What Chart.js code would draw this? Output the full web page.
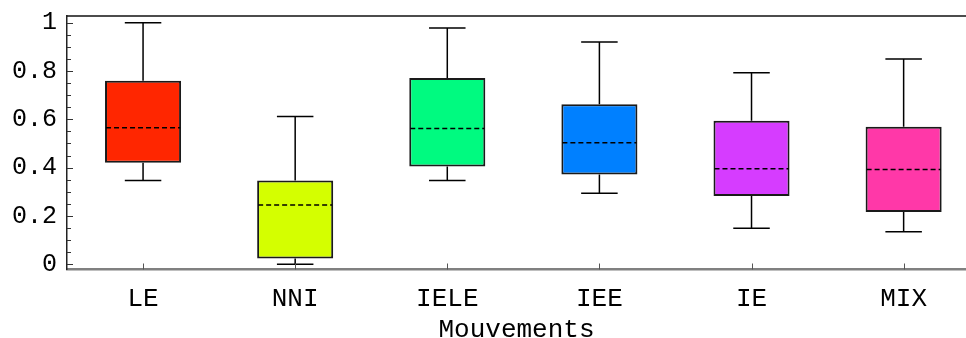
<!DOCTYPE html>
<html>
<head>
<meta charset="utf-8">
<script src="https://cdn.jsdelivr.net/npm/chart.js@4.4.1/dist/chart.umd.min.js"></script>
<style>
  html, body { margin: 0; padding: 0; background: #fff; }
  #wrap { width: 966px; height: 338px; position: relative; }
</style>
</head>
<body>
<div id="wrap"><canvas id="boxChart"></canvas></div>
<script>
/* ======= Data ======= */
var categories  = ['LE', 'NNI', 'IELE', 'IEE', 'IE', 'MIX'];
var whiskerLow  = [0.347, 0.000, 0.347, 0.294, 0.149, 0.134];
var quartile1   = [0.420, 0.024, 0.405, 0.372, 0.282, 0.216];
var medians     = [0.565, 0.245, 0.562, 0.503, 0.395, 0.392];
var quartile3   = [0.760, 0.347, 0.771, 0.662, 0.594, 0.569];
var whiskerHigh = [1.000, 0.612, 0.978, 0.920, 0.793, 0.850];
var yTickValues = [0, 0.2, 0.4, 0.6, 0.8, 1];
var yTickLabels = ['0', '0.2', '0.4', '0.6', '0.8', '1'];
var yMinorStep  = 0.05;

var boxColors = ['#ff2600', '#d4ff00', '#00fa80', '#0080ff', '#d63cff', '#ff38a8'];
var monoFont  = "'Liberation Mono', 'DejaVu Sans Mono', monospace";

/* ======= Whiskers, medians, inward ticks, top frame ======= */
var boxExtras = {
    id: 'boxExtras',
    afterDatasetsDraw: function (chart) {
        var ctx = chart.ctx;
        var xs = chart.scales.x;
        var ys = chart.scales.y;
        var area = chart.chartArea;
        var bars = chart.getDatasetMeta(0).data;
        var capHalf = 0.12;

        ctx.save();
        ctx.strokeStyle = '#000';
        ctx.lineWidth = 1.5;
        categories.forEach(function (c, i) {
            var x = xs.getPixelForValue(i + 1);
            var capL = xs.getPixelForValue(i + 1 - capHalf);
            var capR = xs.getPixelForValue(i + 1 + capHalf);
            [[quartile3[i], whiskerHigh[i]], [quartile1[i], whiskerLow[i]]].forEach(function (p) {
                var y0 = ys.getPixelForValue(p[0]);
                var y1 = ys.getPixelForValue(p[1]);
                ctx.beginPath();
                ctx.moveTo(x, y0);
                ctx.lineTo(x, y1);
                ctx.moveTo(capL, y1);
                ctx.lineTo(capR, y1);
                ctx.stroke();
            });
        });

        // dashed medians across each box
        ctx.setLineDash([5, 3]);
        ctx.lineWidth = 1.5;
        bars.forEach(function (bar, i) {
            var ym = ys.getPixelForValue(medians[i]);
            ctx.beginPath();
            ctx.moveTo(bar.x - bar.width / 2 + 1, ym);
            ctx.lineTo(bar.x + bar.width / 2 - 1, ym);
            ctx.stroke();
        });
        ctx.setLineDash([]);

        // y ticks pointing inward, major every 0.2, minor every 0.05
        ctx.strokeStyle = '#333';
        ctx.lineWidth = 1;
        for (var k = 0; k * yMinorStep <= ys.max + 1e-9; k++) {
            var yy = Math.round(ys.getPixelForValue(k * yMinorStep)) + 0.5;
            var len = (k % 4 === 0) ? 6 : 4;
            ctx.beginPath();
            ctx.moveTo(area.left, yy);
            ctx.lineTo(area.left + len, yy);
            ctx.stroke();
        }

        // x ticks pointing up
        ctx.strokeStyle = '#555';
        categories.forEach(function (c, i) {
            var xx = Math.round(xs.getPixelForValue(i + 1)) + 0.5;
            ctx.beginPath();
            ctx.moveTo(xx, area.bottom);
            ctx.lineTo(xx, area.bottom - 6);
            ctx.stroke();
        });

        // frame on top
        ctx.strokeStyle = '#111';
        ctx.lineWidth = 1.5;
        ctx.beginPath();
        ctx.moveTo(area.left, area.top);
        ctx.lineTo(area.right, area.top);
        ctx.stroke();
        ctx.restore();
    }
};

var ctx = document.getElementById('boxChart');

var chart = new Chart(ctx, {
    type: 'bar',
    data: {
        datasets: [{
            data: categories.map(function (c, i) {
                return { x: i + 1, y: [quartile1[i], quartile3[i]] };
            }),
            backgroundColor: boxColors,
            borderColor: '#1a1a1a',
            borderWidth: 2,
            borderSkipped: false,
            barPercentage: 0.5,
            categoryPercentage: 1
        }]
    },
    options: {
        responsive: true,
        maintainAspectRatio: false,
        animation: false,
        layout: { padding: { top: 16, right: 0, bottom: 0, left: 0 } },
        plugins: {
            legend: { display: false },
            tooltip: { enabled: false }
        },
        scales: {
            x: {
                type: 'linear',
                min: 0.5,
                max: 6.41,
                offset: false,
                grid: { display: true, offset: false, drawOnChartArea: false, drawTicks: false },
                border: { color: '#808080', width: 2.5 },
                afterBuildTicks: function (s) {
                    s.ticks = categories.map(function (c, i) { return { value: i + 1 }; });
                },
                afterFit: function (s) {
                    s.height = 68.5;
                    s.paddingLeft = 0;
                    s.paddingRight = 0;
                },
                ticks: {
                    padding: 14,
                    color: '#000',
                    autoSkip: false,
                    maxRotation: 0,
                    font: { family: monoFont, size: 26 },
                    callback: function (v) { return categories[Math.round(v) - 1]; }
                },
                title: {
                    display: true,
                    text: 'Mouvements',
                    color: '#000',
                    font: { family: monoFont, size: 26, lineHeight: 0.6 },
                    padding: { top: 0, bottom: 0 }
                }
            },
            y: {
                min: -0.022,
                max: 1.028,
                grid: { display: true, drawOnChartArea: false, drawTicks: false },
                border: { color: '#222', width: 1.5 },
                afterBuildTicks: function (s) {
                    s.ticks = yTickValues.map(function (v) { return { value: v }; });
                },
                afterFit: function (s) {
                    s.width = 67;
                    s.paddingTop = 0;
                    s.paddingBottom = 0;
                },
                ticks: {
                    padding: 10,
                    color: '#000',
                    autoSkip: false,
                    font: { family: monoFont, size: 25 },
                    callback: function (v, idx) { return yTickLabels[idx]; }
                }
            }
        }
    },
    plugins: [boxExtras]
});
</script>
</body>
</html>
